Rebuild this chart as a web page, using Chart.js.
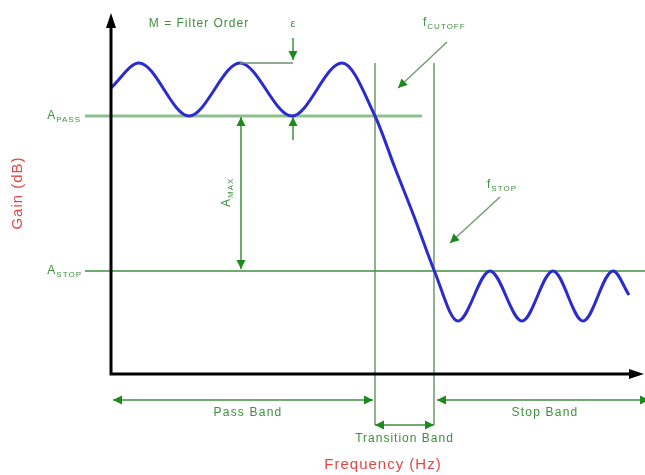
<!DOCTYPE html>
<html lang="en">
<head>
<meta charset="UTF-8">
<title>Filter Response</title>
<script src="https://cdn.jsdelivr.net/npm/chart.js"></script>
<style>
  body { margin: 0; background: #fff; }
  #wrap { width: 645px; height: 475px; }
</style>
</head>
<body>
<div id="wrap"><canvas id="filterChart" width="645" height="475"></canvas></div>
<script>
// response curve (arbitrary units)
const freq = [0, 2.8, 7.8, 12.9, 18.1, 23.1, 26.4, 28.4, 30.4, 32.3, 34.7, 37.9, 41.1, 44.2, 47.2, 50.2, 51.8];
const gain = [28.6, 31.1, 25.8, 31.1, 25.8, 31.1, 25.8, 20.6, 15.5, 10.4, 5.3, 10.3, 5.3, 10.3, 5.3, 10.3, 7.9];

// levels and edge frequencies
const aPass = 25.8;
const aStop = 10.3;
const rippleTop = 31.1;
const fCutoff = 26.4;
const fStop = 32.3;
const fEnd = 53.3;
const gTop = 36.1;

const bandNames = ['Pass Band', 'Transition Band', 'Stop Band'];

const GREEN = '#3f8f3f';
const DARK = '#1c8a1c';
const RED = '#e04848';
const FONT = '"Liberation Sans", Arial, sans-serif';

const curve = freq.map((f, i) => ({ x: f, y: gain[i] }));

function arrowHead(ctx, x1, y1, x2, y2, len, half) {
    const a = Math.atan2(y2 - y1, x2 - x1);
    ctx.beginPath();
    ctx.moveTo(x2, y2);
    ctx.lineTo(x2 - len * Math.cos(a) + half * Math.sin(a), y2 - len * Math.sin(a) - half * Math.cos(a));
    ctx.lineTo(x2 - len * Math.cos(a) - half * Math.sin(a), y2 - len * Math.sin(a) + half * Math.cos(a));
    ctx.closePath();
    ctx.fill();
}

function arrow(ctx, x1, y1, x2, y2, both, color, width) {
    ctx.strokeStyle = color || GREEN;
    ctx.fillStyle = DARK;
    ctx.lineWidth = width || 1.5;
    ctx.beginPath();
    ctx.moveTo(x1, y1);
    ctx.lineTo(x2, y2);
    ctx.stroke();
    arrowHead(ctx, x1, y1, x2, y2, 9, 4.5);
    if (both) arrowHead(ctx, x2, y2, x1, y1, 9, 4.5);
}

// letter + subscript, e.g. A with PASS below-right
function subText(ctx, main, sub, x, y, align, color) {
    ctx.fillStyle = color || GREEN;
    ctx.textBaseline = 'middle';
    ctx.textAlign = 'left';
    ctx.letterSpacing = '0px';
    ctx.font = '12px ' + FONT;
    const w1 = ctx.measureText(main).width + 1;
    ctx.font = '8px ' + FONT;
    ctx.letterSpacing = '1px';
    const w2 = ctx.measureText(sub).width;
    let start = x;
    if (align === 'right') start = x - w1 - w2;
    ctx.fillText(sub, start + w1, y + 4);
    ctx.letterSpacing = '0px';
    ctx.font = '12px ' + FONT;
    ctx.fillText(main, start, y);
}

function label(ctx, text, x, y, size, color, spacing) {
    ctx.font = size + 'px ' + FONT;
    ctx.letterSpacing = (spacing || 0) + 'px';
    ctx.fillStyle = color || GREEN;
    ctx.textAlign = 'center';
    ctx.textBaseline = 'middle';
    ctx.fillText(text, x, y);
    ctx.letterSpacing = '0px';
}

const annotations = {
    id: 'annotations',
    afterDatasetsDraw(chart) {
        const ctx = chart.ctx;
        const X = v => chart.scales.x.getPixelForValue(v);
        const Y = v => chart.scales.y.getPixelForValue(v);
        ctx.save();

        // axes
        ctx.strokeStyle = '#000';
        ctx.fillStyle = '#000';
        ctx.lineWidth = 3;
        ctx.beginPath();
        ctx.moveTo(X(0), Y(0));
        ctx.lineTo(X(0), Y(gTop) + 10);
        ctx.moveTo(X(0) - 1.5, Y(0));
        ctx.lineTo(X(fEnd) - 10, Y(0));
        ctx.stroke();
        arrowHead(ctx, X(0), Y(0), X(0), Y(gTop), 15, 5);
        arrowHead(ctx, X(0), Y(0), X(fEnd), Y(0), 15, 5);

        // ripple marker
        ctx.strokeStyle = '#6f8f6f';
        ctx.lineWidth = 1.5;
        ctx.beginPath();
        ctx.moveTo(X(12.9), Y(rippleTop));
        ctx.lineTo(X(18.2), Y(rippleTop));
        ctx.stroke();
        arrow(ctx, X(18.2), Y(33.6), X(18.2), Y(rippleTop + 0.3));
        arrow(ctx, X(18.2), Y(23.4), X(18.2), Y(aPass - 0.1));

        // A max
        arrow(ctx, X(13.0), Y(aPass - 0.1), X(13.0), Y(aStop + 0.2), true);

        // f cutoff / f stop pointers
        arrow(ctx, X(33.6), Y(33.2), X(28.7), Y(28.6), false, '#7a9a7a');
        arrow(ctx, X(38.9), Y(17.7), X(33.9), Y(13.1), false, '#7a9a7a');

        // band arrows
        arrow(ctx, X(0.2), Y(-2.6), X(fCutoff - 0.2), Y(-2.6), true);
        arrow(ctx, X(fStop + 0.3), Y(-2.6), X(fEnd + 0.5), Y(-2.6), true);
        arrow(ctx, X(fCutoff), Y(-5.1), X(fStop), Y(-5.1), true);

        // text
        label(ctx, 'M = Filter Order', X(8.8), Y(35.0), 12, GREEN, 1);
        label(ctx, 'ε', X(18.2), Y(35.0), 11);
        subText(ctx, 'f', 'CUTOFF', X(31.2), Y(35.1));
        subText(ctx, 'f', 'STOP', X(37.6), Y(18.9));
        subText(ctx, 'A', 'PASS', X(-3.0), Y(aPass), 'right');
        subText(ctx, 'A', 'STOP', X(-2.9), Y(aStop), 'right');

        ctx.save();
        ctx.translate(X(11.6), Y(18.2));
        ctx.rotate(-Math.PI / 2);
        subText(ctx, 'A', 'MAX', -15, 0);
        ctx.restore();

        ctx.save();
        ctx.translate(X(-9.3), Y(18.1));
        ctx.rotate(-Math.PI / 2);
        label(ctx, 'Gain (dB)', 0, 0, 15, RED, 1);
        ctx.restore();

        label(ctx, bandNames[0], X(13.7), Y(-3.9), 12, GREEN, 1.2);
        label(ctx, bandNames[2], X(43.4), Y(-3.9), 12, GREEN, 1.2);
        label(ctx, bandNames[1], X((fCutoff + fStop) / 2), Y(-6.5), 12, GREEN, 1);
        label(ctx, 'Frequency (Hz)', X(27.2), Y(-9.1), 15, RED, 1);

        ctx.restore();
    }
};

const refLine = (pts, color, width) => ({
    data: pts,
    borderColor: color,
    borderWidth: width,
    pointRadius: 0,
    showLine: true,
    order: 1
});

new Chart(document.getElementById('filterChart'), {
    type: 'scatter',
    data: {
        datasets: [
            {
                label: 'Response',
                data: curve,
                borderColor: '#2b2bd0',
                borderWidth: 3,
                pointRadius: 0,
                showLine: true,
                cubicInterpolationMode: 'monotone',
                order: 0
            },
            refLine([{ x: -2.6, y: aPass }, { x: 31.1, y: aPass }], '#8fbf8f', 3),
            refLine([{ x: -2.6, y: aStop }, { x: 53.4, y: aStop }], '#3f8f3f', 1.5),
            refLine([{ x: fCutoff, y: rippleTop }, { x: fCutoff, y: -5.1 }], '#6f996f', 1.5),
            refLine([{ x: fStop, y: rippleTop }, { x: fStop, y: -5.1 }], '#6f996f', 1.5)
        ]
    },
    options: {
        responsive: false,
        animation: false,
        devicePixelRatio: 1,
        layout: { padding: 0 },
        scales: {
            x: { type: 'linear', min: -11.1, max: 53.4, display: false },
            y: { type: 'linear', min: -10.1, max: 37.4, display: false }
        },
        plugins: {
            legend: { display: false },
            tooltip: { enabled: false }
        }
    },
    plugins: [annotations]
});
</script>
</body>
</html>
